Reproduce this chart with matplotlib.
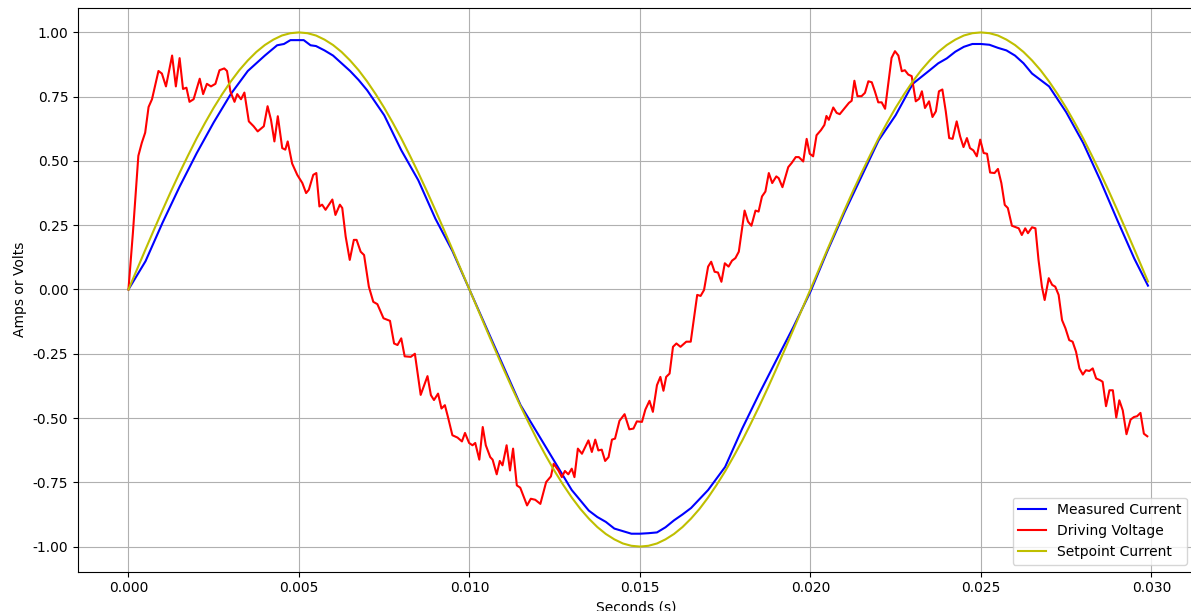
import matplotlib
matplotlib.use("Agg")
import matplotlib.pyplot as plt

# measured current (s, A)
meas_t = [0.0, 0.0005, 0.001, 0.0015, 0.002, 0.0025, 0.003, 0.0035, 0.00375, 0.004,
          0.00436, 0.00456, 0.00475, 0.00514, 0.00534, 0.0055, 0.00575, 0.006, 0.00625, 0.0065,
          0.00675, 0.007, 0.0075, 0.008, 0.0085, 0.009, 0.0095, 0.010, 0.0105, 0.011,
          0.0115, 0.012, 0.0125, 0.013, 0.0135, 0.01375, 0.014, 0.01425, 0.0145, 0.01475,
          0.015, 0.01525, 0.0155, 0.01575, 0.016, 0.01625, 0.0165, 0.017, 0.0175, 0.018,
          0.0185, 0.019, 0.0195, 0.020, 0.0205, 0.021, 0.0215, 0.022, 0.0225, 0.023,
          0.0235, 0.02375, 0.024, 0.02425, 0.0245, 0.02475, 0.025, 0.02525, 0.0255, 0.02575,
          0.026, 0.02625, 0.0265, 0.02675, 0.027, 0.0275, 0.028, 0.0285, 0.029, 0.0295,
          0.0299]

measured = [0.0, 0.11, 0.26, 0.40, 0.53, 0.65, 0.76, 0.85, 0.88, 0.91,
            0.95, 0.955, 0.97, 0.97, 0.95, 0.947, 0.93, 0.91, 0.88, 0.85,
            0.815, 0.775, 0.678, 0.542, 0.425, 0.276, 0.15, 0.0, -0.15, -0.30,
            -0.45, -0.56, -0.67, -0.78, -0.86, -0.885, -0.904, -0.93, -0.94, -0.95,
            -0.95, -0.948, -0.945, -0.925, -0.898, -0.875, -0.85, -0.78, -0.69, -0.541,
            -0.405, -0.275, -0.146, -0.009, 0.15, 0.30, 0.44, 0.58, 0.678, 0.80,
            0.853, 0.88, 0.899, 0.925, 0.944, 0.955, 0.955, 0.952, 0.94, 0.93,
            0.91, 0.88, 0.84, 0.815, 0.79, 0.69, 0.57, 0.425, 0.27, 0.12,
            0.015]

# setpoint current (s, A)
setp_t = [0.0, 0.00025, 0.0005, 0.00075, 0.001, 0.00125, 0.0015, 0.00175, 0.002, 0.00225,
          0.0025, 0.00275, 0.003, 0.00325, 0.0035, 0.00375, 0.004, 0.00425, 0.0045, 0.00475,
          0.005, 0.00525, 0.0055, 0.00575, 0.006, 0.00625, 0.0065, 0.00675, 0.007, 0.00725,
          0.0075, 0.00775, 0.008, 0.00825, 0.0085, 0.00875, 0.009, 0.00925, 0.0095, 0.00975,
          0.010, 0.01025, 0.0105, 0.01075, 0.011, 0.01125, 0.0115, 0.01175, 0.012, 0.01225,
          0.0125, 0.01275, 0.013, 0.01325, 0.0135, 0.01375, 0.014, 0.01425, 0.0145, 0.01475,
          0.015, 0.01525, 0.0155, 0.01575, 0.016, 0.01625, 0.0165, 0.01675, 0.017, 0.01725,
          0.0175, 0.01775, 0.018, 0.01825, 0.0185, 0.01875, 0.019, 0.01925, 0.0195, 0.01975,
          0.020, 0.02025, 0.0205, 0.02075, 0.021, 0.02125, 0.0215, 0.02175, 0.022, 0.02225,
          0.0225, 0.02275, 0.023, 0.02325, 0.0235, 0.02375, 0.024, 0.02425, 0.0245, 0.02475,
          0.025, 0.02525, 0.0255, 0.02575, 0.026, 0.02625, 0.0265, 0.02675, 0.027, 0.02725,
          0.0275, 0.02775, 0.028, 0.02825, 0.0285, 0.02875, 0.029, 0.02925, 0.0295, 0.02975,
          0.0299]

setpoint = [0.0, 0.078, 0.156, 0.233, 0.309, 0.383, 0.454, 0.522, 0.588, 0.649,
            0.707, 0.760, 0.809, 0.853, 0.891, 0.924, 0.951, 0.972, 0.988, 0.997,
            1.0, 0.997, 0.988, 0.972, 0.951, 0.924, 0.891, 0.853, 0.809, 0.760,
            0.707, 0.649, 0.588, 0.522, 0.454, 0.383, 0.309, 0.233, 0.156, 0.078,
            0.0, -0.078, -0.156, -0.233, -0.309, -0.383, -0.454, -0.522, -0.588, -0.649,
            -0.707, -0.760, -0.809, -0.853, -0.891, -0.924, -0.951, -0.972, -0.988, -0.997,
            -1.0, -0.997, -0.988, -0.972, -0.951, -0.924, -0.891, -0.853, -0.809, -0.760,
            -0.707, -0.649, -0.588, -0.522, -0.454, -0.383, -0.309, -0.233, -0.156, -0.078,
            0.0, 0.078, 0.156, 0.233, 0.309, 0.383, 0.454, 0.522, 0.588, 0.649,
            0.707, 0.760, 0.809, 0.853, 0.891, 0.924, 0.951, 0.972, 0.988, 0.997,
            1.0, 0.997, 0.988, 0.972, 0.951, 0.924, 0.891, 0.853, 0.809, 0.760,
            0.707, 0.649, 0.588, 0.522, 0.454, 0.383, 0.309, 0.233, 0.156, 0.078,
            0.031]

# driving voltage
volt_t = [0.00000, 0.00013, 0.00029, 0.00039, 0.00049, 0.00059, 0.00069, 0.00088, 0.00098, 0.00110,
          0.00128, 0.00139, 0.00150, 0.00160, 0.00170, 0.00179, 0.00191, 0.00209, 0.00219, 0.00230,
          0.00242, 0.00255, 0.00267, 0.00281, 0.00289, 0.00299, 0.00311, 0.00319, 0.00330, 0.00340,
          0.00353, 0.00367, 0.00379, 0.00397, 0.00408, 0.00418, 0.00428, 0.00438, 0.00451, 0.00460,
          0.00467, 0.00480, 0.00495, 0.00510, 0.00521, 0.00529, 0.00542, 0.00551, 0.00560, 0.00568,
          0.00578, 0.00598, 0.00607, 0.00620, 0.00627, 0.00637, 0.00649, 0.00661, 0.00669, 0.00681,
          0.00691, 0.00705, 0.00718, 0.00730, 0.00748, 0.00767, 0.00779, 0.00789, 0.00800, 0.00810,
          0.00828, 0.00840, 0.00857, 0.00877, 0.00887, 0.00896, 0.00908, 0.00918, 0.00928, 0.00937,
          0.00950, 0.00965, 0.00978, 0.00987, 0.00999, 0.01009, 0.01017, 0.01029, 0.01039, 0.01048,
          0.01061, 0.01068, 0.01080, 0.01089, 0.01097, 0.01109, 0.01119, 0.01128, 0.01139, 0.01149,
          0.01169, 0.01180, 0.01193, 0.01208, 0.01225, 0.01239, 0.01247, 0.01261, 0.01271, 0.01280,
          0.01290, 0.01300, 0.01308, 0.01318, 0.01330, 0.01349, 0.01359, 0.01369, 0.01378, 0.01388,
          0.01398, 0.01408, 0.01418, 0.01427, 0.01440, 0.01455, 0.01469, 0.01481, 0.01491, 0.01506,
          0.01516, 0.01528, 0.01538, 0.01550, 0.01560, 0.01569, 0.01577, 0.01587, 0.01597, 0.01607,
          0.01619, 0.01636, 0.01649, 0.01668, 0.01678, 0.01688, 0.01700, 0.01709, 0.01719, 0.01729,
          0.01739, 0.01749, 0.01760, 0.01770, 0.01780, 0.01790, 0.01807, 0.01817, 0.01827, 0.01839,
          0.01848, 0.01858, 0.01868, 0.01878, 0.01888, 0.01900, 0.01907, 0.01918, 0.01935, 0.01945,
          0.01957, 0.01966, 0.01979, 0.01989, 0.01998, 0.02008, 0.02018, 0.02031, 0.02041, 0.02047,
          0.02054, 0.02067, 0.02077, 0.02086, 0.02103, 0.02113, 0.02121, 0.02129, 0.02138, 0.02150,
          0.02160, 0.02170, 0.02180, 0.02189, 0.02199, 0.02209, 0.02219, 0.02238, 0.02248, 0.02258,
          0.02268, 0.02277, 0.02287, 0.02297, 0.02309, 0.02319, 0.02327, 0.02336, 0.02348, 0.02358,
          0.02368, 0.02377, 0.02387, 0.02397, 0.02407, 0.02417, 0.02429, 0.02439, 0.02449, 0.02459,
          0.02468, 0.02478, 0.02488, 0.02498, 0.02508, 0.02518, 0.02527, 0.02540, 0.02550, 0.02560,
          0.02570, 0.02579, 0.02591, 0.02603, 0.02611, 0.02620, 0.02630, 0.02638, 0.02650, 0.02660,
          0.02669, 0.02679, 0.02687, 0.02699, 0.02709, 0.02718, 0.02728, 0.02738, 0.02748, 0.02759,
          0.02769, 0.02779, 0.02789, 0.02799, 0.02808, 0.02818, 0.02828, 0.02838, 0.02850, 0.02857,
          0.02867, 0.02877, 0.02887, 0.02897, 0.02906, 0.02916, 0.02927, 0.02939, 0.02949, 0.02958,
          0.02968, 0.02978, 0.02988]

volt_v = [0.00, 0.22, 0.52, 0.57, 0.61, 0.71, 0.74, 0.85, 0.84, 0.79,
          0.91, 0.79, 0.90, 0.78, 0.785, 0.73, 0.74, 0.82, 0.76, 0.80,
          0.79, 0.80, 0.853, 0.86, 0.85, 0.77, 0.73, 0.76, 0.74, 0.766,
          0.654, 0.635, 0.615, 0.635, 0.713, 0.66, 0.576, 0.674, 0.55, 0.544,
          0.576, 0.49, 0.446, 0.414, 0.375, 0.388, 0.446, 0.453, 0.323, 0.33,
          0.31, 0.35, 0.29, 0.33, 0.317, 0.206, 0.115, 0.193, 0.193, 0.147,
          0.134, 0.011, -0.048, -0.057, -0.112, -0.122, -0.21, -0.216, -0.19, -0.26,
          -0.262, -0.25, -0.41, -0.337, -0.411, -0.43, -0.405, -0.463, -0.45, -0.496,
          -0.567, -0.576, -0.591, -0.558, -0.597, -0.606, -0.597, -0.662, -0.535, -0.606,
          -0.652, -0.662, -0.719, -0.667, -0.684, -0.606, -0.704, -0.619, -0.762, -0.771,
          -0.84, -0.814, -0.818, -0.834, -0.749, -0.727, -0.678, -0.704, -0.73, -0.706,
          -0.719, -0.697, -0.73, -0.619, -0.639, -0.587, -0.632, -0.584, -0.626, -0.623,
          -0.667, -0.652, -0.584, -0.58, -0.511, -0.485, -0.544, -0.541, -0.513, -0.515,
          -0.467, -0.433, -0.476, -0.372, -0.34, -0.394, -0.34, -0.327, -0.223, -0.21,
          -0.223, -0.203, -0.203, -0.021, -0.025, -0.002, 0.089, 0.108, 0.069, 0.066,
          0.03, 0.102, 0.089, 0.112, 0.122, 0.147, 0.307, 0.264, 0.248, 0.307,
          0.303, 0.362, 0.381, 0.453, 0.414, 0.44, 0.433, 0.398, 0.476, 0.492,
          0.515, 0.515, 0.498, 0.586, 0.528, 0.518, 0.60, 0.62, 0.64, 0.675,
          0.66, 0.708, 0.687, 0.682, 0.71, 0.726, 0.734, 0.812, 0.752, 0.752,
          0.765, 0.81, 0.806, 0.771, 0.728, 0.728, 0.703, 0.901, 0.927, 0.91,
          0.849, 0.853, 0.836, 0.83, 0.732, 0.742, 0.771, 0.706, 0.732, 0.671,
          0.693, 0.771, 0.778, 0.693, 0.589, 0.586, 0.654, 0.596, 0.554, 0.589,
          0.55, 0.541, 0.518, 0.583, 0.531, 0.528, 0.455, 0.453, 0.469, 0.414,
          0.329, 0.317, 0.248, 0.242, 0.238, 0.212, 0.238, 0.219, 0.242, 0.238,
          0.115, 0.011, -0.041, 0.044, 0.018, 0.011, -0.021, -0.119, -0.151, -0.197,
          -0.203, -0.242, -0.307, -0.331, -0.314, -0.317, -0.307, -0.346, -0.353, -0.359,
          -0.454, -0.392, -0.392, -0.498, -0.431, -0.47, -0.563, -0.506, -0.496, -0.493,
          -0.48, -0.561, -0.571]

fig = plt.figure(figsize=(11.91, 6.11), dpi=100)
ax = fig.add_axes([78 / 1191, 39.5 / 611, 1116 / 1191, 563.5 / 611])

ax.plot(meas_t, measured, color='b', label='Measured Current')
ax.plot(volt_t, volt_v, color='r', label='Driving Voltage')
ax.plot(setp_t, setpoint, color='y', label='Setpoint Current')

ax.set_xlim(-0.00148, 0.03125)
ax.set_ylim(-1.097, 1.095)
ax.set_xticks([0.0, 0.005, 0.010, 0.015, 0.020, 0.025, 0.030])
ax.set_yticks([-1.0, -0.75, -0.5, -0.25, 0.0, 0.25, 0.5, 0.75, 1.0])
ax.xaxis.set_major_formatter(matplotlib.ticker.FormatStrFormatter('%.3f'))
ax.yaxis.set_major_formatter(matplotlib.ticker.FormatStrFormatter('%.2f'))
ax.set_xlabel('Seconds (s)')
ax.set_ylabel('Amps or Volts')
ax.grid(True)
ax.legend(loc='lower right')

fig.savefig('out.png', dpi=100)
